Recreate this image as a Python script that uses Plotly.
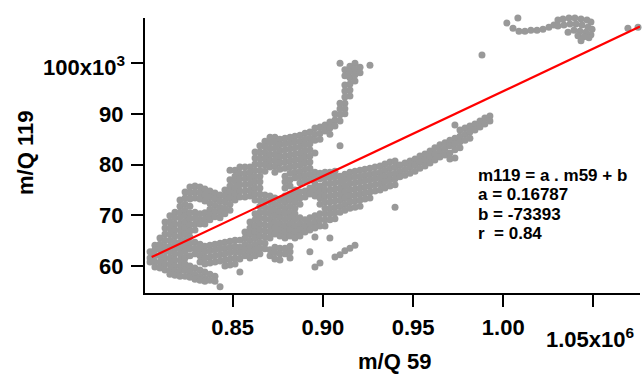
import plotly.graph_objects as go

# ---- data (m/Q 59 in units of 1e6, m/Q 119 in units of 1e3) ----
# each entry: (m59 value, [m119 values at that m59])
cols_left = [
    (0.8042, [62.8, 61.6, 60.8]),
    (0.8069, [64.1, 63.2, 62.0, 60.8, 59.8]),
    (0.8097, [65.5, 64.3, 63.2, 62.0, 60.8, 59.6]),
    (0.8125, [68.7, 67.5, 66.3, 65.1, 63.9, 62.8, 61.6, 60.4, 59.2]),
    (0.8152, [69.9, 68.7, 67.5, 66.3, 65.1, 63.9, 62.8, 61.6, 60.4, 59.2, 58.4]),
    (0.8180, [70.6, 69.5, 68.3, 67.1, 65.9, 64.7, 63.5, 62.4, 61.2, 60.0, 59.0, 58.2]),
    (0.8208, [73.0, 71.8, 70.6, 69.5, 68.3, 67.1, 65.9, 64.7, 63.5, 62.4, 61.2, 60.0, 59.0, 58.0]),
    (0.8236, [74.6, 73.4, 72.2, 71.0, 69.9, 68.7, 67.5, 66.3, 65.1, 63.9, 62.8, 61.6, 60.4, 59.2, 58.0]),
    (0.8263, [75.6, 74.4, 73.2, 71.8, 70.5, 69.3, 68.1, 66.9, 65.7, 64.5, 63.4, 62.0, 60.0, 58.8, 57.8]),
    (0.8291, [75.8, 74.6, 73.4, 70.6, 69.5, 68.3, 67.1, 64.7, 63.5, 62.4, 59.6, 58.4, 57.4]),
    (0.8319, [75.6, 74.4, 73.2, 70.3, 69.1, 68.3, 64.3, 63.2, 62.0, 60.8, 59.2, 58.0, 57.2]),
    (0.8346, [75.2, 74.0, 72.8, 70.5, 69.3, 68.3, 63.9, 62.8, 61.6, 60.4, 58.8, 57.6, 57.0]),
    (0.8374, [74.8, 73.6, 72.4, 71.2, 70.1, 69.1, 64.1, 63.0, 61.8, 60.6, 58.4, 57.2]),
    (0.8402, [74.4, 73.2, 72.0, 70.8, 69.7, 64.3, 63.2, 62.0, 60.8, 58.0, 57.0]),
    (0.8430, [74.0, 72.8, 71.6, 70.6, 69.5, 64.5, 63.4, 62.2, 61.0, 55.9]),
    (0.8457, [75.0, 73.8, 72.6, 71.4, 70.3, 64.7, 63.5, 62.4, 61.2, 60.0]),
    (0.8485, [78.9, 77.0, 75.8, 74.6, 73.4, 72.2, 71.0, 64.9, 63.7, 62.6, 61.4, 60.2]),
    (0.8513, [78.9, 77.7, 76.6, 75.4, 74.2, 73.0, 65.1, 63.9, 62.8, 61.6, 60.4]),
    (0.8540, [79.5, 78.3, 77.2, 76.0, 74.8, 73.6, 65.1, 63.7, 62.6, 61.4, 58.8]),
    (0.8568, [79.5, 78.3, 77.2, 76.0, 74.8, 73.6, 66.7, 65.5, 64.3, 63.2, 62.0]),
    (0.8596, [79.5, 78.5, 77.4, 76.2, 75.0, 73.8, 68.7, 67.5, 66.3, 65.1, 63.9, 62.8, 61.6]),
]

cols_middle = [
    (0.8624, [82.5, 81.3, 80.1, 78.9, 77.7, 76.6, 75.4, 74.2, 73.0, 70.3, 69.1, 67.9, 66.7, 65.5, 64.3, 63.2, 62.0]),
    (0.8651, [83.7, 82.5, 81.3, 80.1, 78.9, 77.7, 76.6, 75.4, 74.2, 73.0, 71.8, 70.6, 69.5, 68.3, 67.1, 65.9, 64.7, 63.5, 62.4]),
    (0.8679, [84.6, 83.5, 82.3, 81.1, 79.9, 78.7, 74.0, 72.8, 71.6, 70.5, 69.3, 68.1, 66.9, 65.7, 64.5, 63.4]),
    (0.8707, [85.4, 84.3, 83.1, 81.9, 80.7, 79.5, 73.8, 72.6, 71.4, 70.3, 69.1, 67.9, 66.7, 65.5, 63.2, 62.0]),
    (0.8734, [85.4, 84.5, 83.3, 82.1, 80.9, 79.7, 78.5, 73.4, 72.2, 71.0, 69.9, 68.7, 67.5, 66.3, 63.7, 62.6, 61.4]),
    (0.8762, [85.0, 83.9, 82.7, 81.5, 80.3, 79.1, 73.0, 71.8, 70.6, 69.5, 68.3, 67.1, 65.9, 63.5, 62.4, 61.2]),
    (0.8790, [85.2, 84.1, 82.9, 81.7, 80.5, 79.3, 77.7, 76.6, 75.4, 73.8, 72.6, 71.4, 70.3, 69.1, 67.9, 66.7, 65.5, 63.5, 62.4]),
    (0.8818, [85.4, 84.3, 83.1, 81.9, 80.7, 79.5, 78.3, 77.0, 75.8, 74.2, 73.0, 71.8, 70.6, 69.5, 68.3, 67.1, 65.9, 63.9, 62.8, 61.6]),
    (0.8845, [85.6, 84.5, 83.3, 82.1, 80.9, 79.7, 78.5, 77.4, 75.0, 73.8, 72.6, 71.4, 70.3, 69.1, 67.9, 66.7, 65.5]),
    (0.8873, [85.8, 84.6, 83.5, 82.3, 81.1, 79.9, 78.7, 77.6, 76.4, 74.6, 73.4, 72.2, 69.5, 68.3, 67.1, 65.9]),
    (0.8901, [86.2, 85.0, 83.9, 82.7, 81.5, 80.3, 79.1, 77.9, 76.8, 74.8, 73.6, 69.1, 67.9, 66.7]),
    (0.8928, [86.4, 85.2, 84.1, 82.9, 81.7, 80.5, 79.3, 78.1, 77.0, 75.4, 74.2, 69.5, 68.3, 67.1, 62.8]),
    (0.8956, [87.2, 86.0, 84.8, 82.3, 78.5, 77.4, 76.2, 75.0, 73.8, 69.9, 68.7, 67.5, 65.7, 59.8]),
    (0.8984, [87.4, 86.2, 85.0, 78.3, 77.2, 75.8, 74.6, 73.4, 72.2, 70.3, 69.1, 67.9, 60.6]),
    (0.9012, [87.8, 86.6, 78.5, 77.4, 76.2, 75.0, 73.8, 72.6, 71.4, 70.3, 69.1, 67.9]),
    (0.9039, [88.4, 87.2, 86.0, 78.5, 77.4, 76.2, 75.0, 73.8, 72.6, 71.4, 70.3, 69.1, 65.5]),
    (0.9067, [90.0, 88.8, 87.6, 78.7, 77.6, 76.4, 75.2, 74.0, 72.8, 71.6, 70.5, 69.3, 61.8]),
    (0.9095, [100.0, 92.1, 91.0, 89.8, 88.6, 83.7, 77.7, 76.6, 75.4, 74.2, 73.0, 71.8, 70.6, 62.2]),
    (0.9122, [98.7, 97.5, 95.7, 94.5, 93.3, 92.1, 91.0, 90.0, 78.1, 77.0, 75.8, 74.6, 73.4, 72.2, 71.0, 63.0]),
    (0.9150, [99.4, 98.3, 97.1, 95.9, 94.7, 93.5, 78.5, 77.4, 76.2, 75.0, 73.8, 72.6, 71.4, 63.5]),
    (0.9178, [100.0, 98.8, 97.7, 96.5, 78.7, 77.6, 76.4, 75.2, 74.0, 72.8, 71.6, 64.1]),
    (0.9206, [99.2, 98.1, 78.9, 77.7, 76.6, 75.4, 74.2, 73.0, 71.8]),
    (0.9233, [79.1, 77.9, 76.8, 75.6, 74.4, 73.2]),
    (0.9261, [99.6, 79.3, 78.1, 77.0, 75.8, 74.6, 73.4]),
]

cols_right_band = [
    (0.9289, [79.5, 78.3, 77.2, 76.0, 74.8]),
    (0.9317, [79.7, 78.5, 77.4, 76.2, 75.0]),
    (0.9344, [80.1, 78.9, 77.7, 76.6, 75.4]),
    (0.9372, [80.5, 79.3, 78.1, 77.0, 75.8]),
    (0.9400, [80.7, 79.5, 78.3, 77.2, 76.0, 71.6]),
    (0.9427, [79.9, 78.7, 77.6]),
    (0.9455, [80.3, 79.1, 77.9]),
    (0.9483, [80.7, 79.5, 78.3]),
    (0.9511, [81.1, 79.9, 78.7]),
    (0.9538, [81.7, 80.5, 79.3]),
    (0.9566, [82.1, 80.9, 79.7]),
    (0.9594, [82.7, 81.5, 80.3]),
    (0.9621, [83.3, 82.1, 80.9]),
    (0.9649, [83.9, 82.7, 81.5]),
    (0.9677, [84.3, 83.1, 81.9]),
    (0.9704, [84.8, 83.7, 82.3, 81.1]),
    (0.9732, [87.8, 85.2, 84.1, 82.9, 81.3]),
    (0.9760, [86.8, 85.6, 84.5, 83.3]),
    (0.9788, [87.2, 86.0, 84.8]),
    (0.9815, [87.6, 86.4, 85.2]),
    (0.9843, [88.0, 86.8]),
    (0.9871, [88.6, 87.4]),
    (0.9898, [89.2, 88.0]),
    (0.9926, [89.6, 88.6]),
]

# upper right group and isolated points
top_right_m59 = [1.0020, 1.0081, 1.0054, 1.0087, 1.0120, 1.0153, 1.0187, 1.0220, 1.0253, 1.0281,
                 1.0303, 1.0331, 1.0364, 1.0397, 1.0431, 1.0464, 1.0486, 1.0303, 1.0336, 1.0370,
                 1.0403, 1.0436, 1.0469, 1.0492, 1.0392, 1.0425, 1.0458, 1.0486, 1.0414, 1.0447,
                 1.0475, 1.0431, 1.0359, 0.9882, 1.0691, 1.0747]
top_right_m119 = [107.9, 108.9, 106.9, 106.3, 106.3, 106.5, 106.5, 106.7, 107.1, 107.5,
                  108.5, 108.7, 108.9, 108.9, 108.7, 108.5, 108.1, 107.3, 107.5, 107.7,
                  107.7, 107.5, 107.1, 106.7, 106.5, 106.3, 106.1, 105.6, 105.4, 105.2,
                  105.0, 104.4, 106.1, 101.6, 106.9, 107.1]

# linear fit  m119 = a * m59 + b
fit_a = 0.16787
fit_b = -73393
fit_r = 0.84
fit_m59_range = [805100, 1075800]

x_tick_vals = [850000, 900000, 950000, 1000000, 1050000]
x_tick_text = ["0.85", "0.90", "0.95", "1.00", ""]
y_tick_vals = [60000, 70000, 80000, 90000, 100000]
y_tick_text = ["60", "70", "80", "90", ""]

# ---- build ----
m59, m119 = [], []
for group in (cols_left, cols_middle, cols_right_band):
    for xv, ys in group:
        for yv in ys:
            m59.append(xv * 1e6)
            m119.append(yv * 1e3)
for xv, yv in zip(top_right_m59, top_right_m119):
    m59.append(xv * 1e6)
    m119.append(yv * 1e3)

fit_y = [fit_a * v + fit_b for v in fit_m59_range]

FONT = "Liberation Sans, Arial, sans-serif"

fig = go.Figure()
fig.add_trace(go.Scatter(
    x=m59, y=m119, mode="markers", cliponaxis=False,
    marker=dict(size=7, color="#999999", line=dict(width=0)),
    hoverinfo="skip", showlegend=False))
fig.add_trace(go.Scatter(
    x=fit_m59_range, y=fit_y, mode="lines", cliponaxis=False,
    line=dict(color="#ff0000", width=2.2),
    hoverinfo="skip", showlegend=False))

axis_common = dict(
    showgrid=False, zeroline=False, showline=True, linewidth=2, linecolor="black",
    ticks="outside", ticklen=12, tickwidth=2, tickcolor="black",
    tickfont=dict(family=FONT, size=22, color="black", weight="bold"),
    tickmode="array",
)

fig.update_layout(
    width=644, height=374,
    margin=dict(l=145, r=4, t=18, b=81),
    paper_bgcolor="white", plot_bgcolor="white",
    font=dict(family=FONT, color="black"),
    xaxis=dict(range=[801400, 1075800], tickvals=x_tick_vals, ticktext=x_tick_text,
               ticklabelstandoff=2, **axis_common),
    yaxis=dict(range=[54680, 108900], tickvals=y_tick_vals, ticktext=y_tick_text,
               ticklabelstandoff=3, **axis_common),
)

ann_font = dict(family=FONT, size=22, color="black", weight="bold")
fig.add_annotation(text="1.05x10<sup>6</sup>", xref="paper", yref="paper",
                   x=0.806, y=-0.164, xanchor="left", yanchor="middle",
                   showarrow=False, font=ann_font)
fig.add_annotation(text="100x10<sup>3</sup>", xref="paper", yref="paper",
                   x=-0.036, y=0.825, xanchor="right", yanchor="middle",
                   showarrow=False, font=ann_font)
fig.add_annotation(text="m/Q 59", xref="paper", yref="paper",
                   x=0.505, y=-0.25, xanchor="center", yanchor="middle",
                   showarrow=False, font=ann_font)
fig.add_annotation(text="m/Q 119", xref="paper", yref="paper",
                   x=-0.24, y=0.51, xanchor="center", yanchor="middle", textangle=-90,
                   showarrow=False, font=ann_font)

eq_lines = ["m119 = a . m59 + b", f"a = {fit_a}", f"b = {fit_b}", f"r  = {fit_r}"]
eq_font = dict(family=FONT, size=17, color="black", weight="bold")
for i, t in enumerate(eq_lines):
    fig.add_annotation(text=t.replace("  ", "&nbsp; "), xref="paper", yref="paper",
                       x=0.668, y=(293 - (175 + i * 19.6)) / 275,
                       xanchor="left", yanchor="middle", showarrow=False, font=eq_font)

fig.write_html("out.html", config={"displayModeBar": False},
               post_script="document.body.style.margin='0';")
